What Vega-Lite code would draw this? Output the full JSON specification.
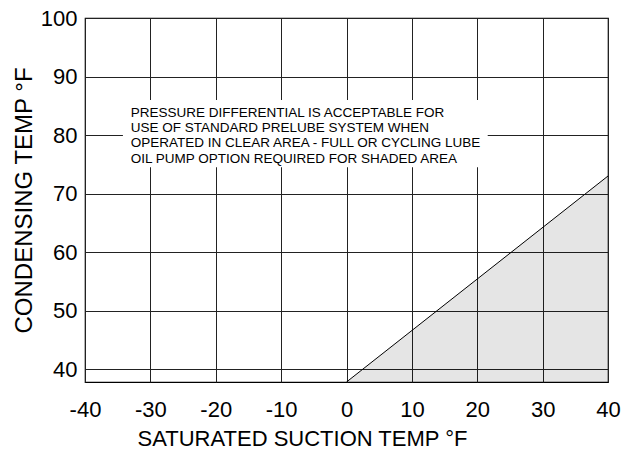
{
  "$schema": "https://vega.github.io/schema/vega-lite/v6.json",
  "width": 523,
  "height": 364,
  "autosize": "none",
  "padding": {"left": 85, "top": 18, "right": 16, "bottom": 69},
  "background": "white",
  "config": {
    "view": {"stroke": "#000", "strokeWidth": 1.2},
    "font": "Liberation Sans",
    "axis": {
      "grid": true,
      "gridColor": "#222",
      "gridOpacity": 1,
      "gridWidth": 1,
      "domain": false,
      "ticks": false,
      "labelFontSize": 22,
      "labelColor": "#000",
      "labelFont": "Liberation Sans",
      "titleFont": "Liberation Sans",
      "titleFontSize": 22,
      "titleFontWeight": "normal",
      "titleColor": "#000"
    }
  },
  "layer": [
    {
      "data": {"values": [
        {"sst": 0, "ct": 37.8, "base": 37.8},
        {"sst": 40, "ct": 73, "base": 37.8}
      ]},
      "mark": {"type": "area", "fill": "#000", "fillOpacity": 0.1},
      "encoding": {
        "x": {"field": "sst", "type": "quantitative",
          "scale": {"domain": [-40, 40], "nice": false, "zero": false},
          "axis": {"values": [-40, -30, -20, -10, 0, 10, 20, 30, 40], "labelExpr": "'' + datum.value", "title": "SATURATED SUCTION TEMP °F", "labelPadding": 17, "titlePadding": 8, "titleX": 217, "labelFlush": false}},
        "y": {"field": "ct", "type": "quantitative",
          "scale": {"domain": [37.8, 100], "nice": false, "zero": false},
          "axis": {"values": [40, 50, 60, 70, 80, 90, 100], "title": "CONDENSING TEMP °F", "titleFontSize": 24, "labelPadding": 8, "titlePadding": 4, "labelFlush": false}},
        "y2": {"field": "base"}
      }
    },
    {
      "data": {"values": [
        {"sst": 0, "ct": 37.8},
        {"sst": 40, "ct": 73}
      ]},
      "mark": {"type": "line", "color": "#000", "strokeWidth": 1},
      "encoding": {
        "x": {"field": "sst", "type": "quantitative"},
        "y": {"field": "ct", "type": "quantitative"}
      }
    },
    {
      "data": {"values": [
        {"x1": -34.2, "x2": 21.6, "y1": 86.0, "y2": 74.5}
      ]},
      "mark": {"type": "rect", "fill": "white", "stroke": null},
      "encoding": {
        "x": {"field": "x1", "type": "quantitative"},
        "x2": {"field": "x2"},
        "y": {"field": "y1", "type": "quantitative"},
        "y2": {"field": "y2"}
      }
    },
    {
      "data": {"values": [
        {"x": -33.0, "y": 85.0, "note": "PRESSURE DIFFERENTIAL IS ACCEPTABLE FOR\nUSE OF STANDARD PRELUBE SYSTEM WHEN\nOPERATED IN CLEAR AREA - FULL OR CYCLING LUBE\nOIL PUMP OPTION REQUIRED FOR SHADED AREA"}
      ]},
      "mark": {"type": "text", "align": "left", "baseline": "top", "fontSize": 13.5, "lineHeight": 15.3, "lineBreak": "\n", "color": "#000", "font": "Liberation Sans"},
      "encoding": {
        "x": {"field": "x", "type": "quantitative"},
        "y": {"field": "y", "type": "quantitative"},
        "text": {"field": "note"}
      }
    }
  ]
}
